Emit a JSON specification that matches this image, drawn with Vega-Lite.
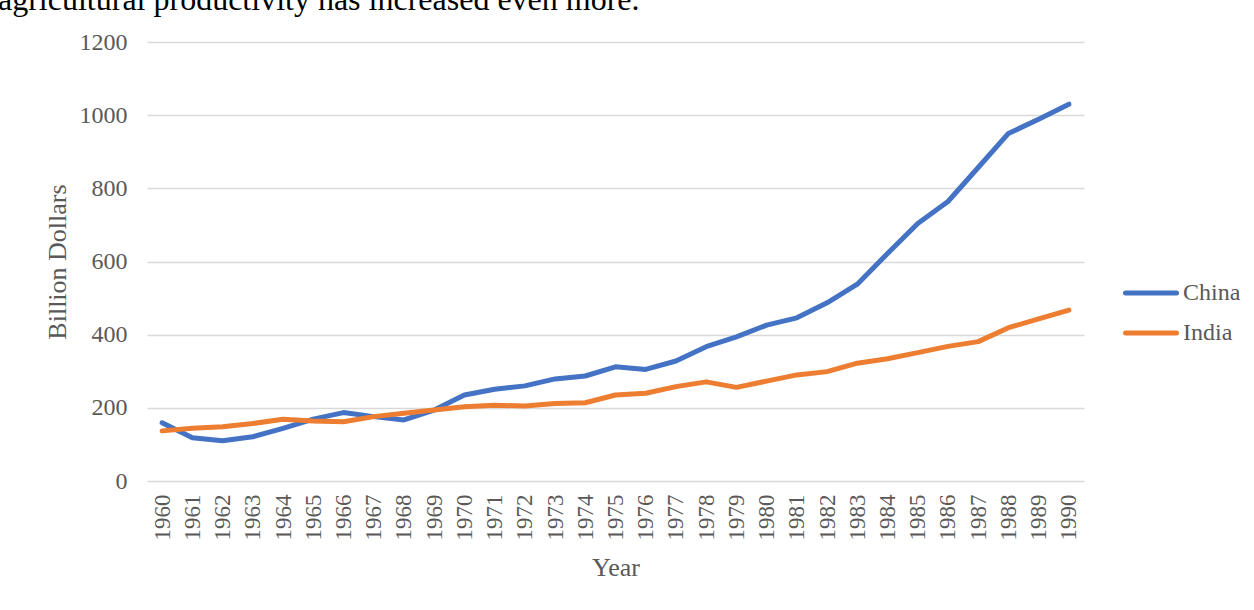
{
  "$schema": "https://vega.github.io/schema/vega-lite/v6.json",
  "autosize": {"type": "none"},
  "padding": {"left": 147, "top": 42, "right": 170, "bottom": 129},
  "width": 937,
  "height": 439,
  "background": "white",
  "title": {
    "text": "agricultural productivity has increased even more.",
    "anchor": "start",
    "frame": "group",
    "orient": "top",
    "baseline": "alphabetic",
    "offset": 0,
    "dx": -149,
    "dy": 12,
    "font": "Liberation Serif",
    "fontSize": 32,
    "fontWeight": "normal",
    "color": "#000000"
  },
  "config": {
    "view": {"stroke": null},
    "font": "Liberation Serif"
  },
  "data": {
    "values": [
      {"year": "1960", "country": "China", "value": 159},
      {"year": "1961", "country": "China", "value": 118},
      {"year": "1962", "country": "China", "value": 110},
      {"year": "1963", "country": "China", "value": 121},
      {"year": "1964", "country": "China", "value": 144},
      {"year": "1965", "country": "China", "value": 169},
      {"year": "1966", "country": "China", "value": 187},
      {"year": "1967", "country": "China", "value": 176},
      {"year": "1968", "country": "China", "value": 167},
      {"year": "1969", "country": "China", "value": 194},
      {"year": "1970", "country": "China", "value": 235},
      {"year": "1971", "country": "China", "value": 251},
      {"year": "1972", "country": "China", "value": 260},
      {"year": "1973", "country": "China", "value": 279},
      {"year": "1974", "country": "China", "value": 287},
      {"year": "1975", "country": "China", "value": 312},
      {"year": "1976", "country": "China", "value": 305},
      {"year": "1977", "country": "China", "value": 328},
      {"year": "1978", "country": "China", "value": 367},
      {"year": "1979", "country": "China", "value": 394},
      {"year": "1980", "country": "China", "value": 426},
      {"year": "1981", "country": "China", "value": 446},
      {"year": "1982", "country": "China", "value": 487},
      {"year": "1983", "country": "China", "value": 538},
      {"year": "1984", "country": "China", "value": 622},
      {"year": "1985", "country": "China", "value": 704},
      {"year": "1986", "country": "China", "value": 764},
      {"year": "1987", "country": "China", "value": 857},
      {"year": "1988", "country": "China", "value": 950},
      {"year": "1989", "country": "China", "value": 989},
      {"year": "1990", "country": "China", "value": 1030},
      {"year": "1960", "country": "India", "value": 137},
      {"year": "1961", "country": "India", "value": 144},
      {"year": "1962", "country": "India", "value": 148},
      {"year": "1963", "country": "India", "value": 157},
      {"year": "1964", "country": "India", "value": 169},
      {"year": "1965", "country": "India", "value": 164},
      {"year": "1966", "country": "India", "value": 162},
      {"year": "1967", "country": "India", "value": 176},
      {"year": "1968", "country": "India", "value": 185},
      {"year": "1969", "country": "India", "value": 194},
      {"year": "1970", "country": "India", "value": 203},
      {"year": "1971", "country": "India", "value": 207},
      {"year": "1972", "country": "India", "value": 205},
      {"year": "1973", "country": "India", "value": 212},
      {"year": "1974", "country": "India", "value": 214},
      {"year": "1975", "country": "India", "value": 235},
      {"year": "1976", "country": "India", "value": 240},
      {"year": "1977", "country": "India", "value": 258},
      {"year": "1978", "country": "India", "value": 271},
      {"year": "1979", "country": "India", "value": 256},
      {"year": "1980", "country": "India", "value": 273},
      {"year": "1981", "country": "India", "value": 290},
      {"year": "1982", "country": "India", "value": 299},
      {"year": "1983", "country": "India", "value": 322},
      {"year": "1984", "country": "India", "value": 334},
      {"year": "1985", "country": "India", "value": 351},
      {"year": "1986", "country": "India", "value": 368},
      {"year": "1987", "country": "India", "value": 381},
      {"year": "1988", "country": "India", "value": 419},
      {"year": "1989", "country": "India", "value": 443},
      {"year": "1990", "country": "India", "value": 467}
    ]
  },
  "mark": {"type": "line", "strokeWidth": 5, "strokeCap": "round", "strokeJoin": "round"},
  "encoding": {
    "x": {
      "field": "year",
      "type": "ordinal",
      "sort": "ascending",
      "scale": {"type": "point", "padding": 0.5},
      "axis": {
        "title": "Year",
        "labelAngle": -90,
        "labelAlign": "right",
        "labelBaseline": "middle",
        "labelPadding": 13,
        "labelFont": "Liberation Serif",
        "labelFontSize": 23,
        "labelColor": "#595959",
        "ticks": false,
        "domain": false,
        "grid": false,
        "titleFont": "Liberation Serif",
        "titleFontSize": 26,
        "titleFontWeight": "normal",
        "titleColor": "#595959",
        "titlePadding": 14
      }
    },
    "y": {
      "field": "value",
      "type": "quantitative",
      "scale": {"domain": [0, 1200], "nice": false},
      "axis": {
        "title": "Billion Dollars",
        "format": "d",
        "values": [0, 200, 400, 600, 800, 1000, 1200],
        "ticks": false,
        "domain": false,
        "grid": true,
        "gridColor": "#d9d9d9",
        "gridWidth": 1.3,
        "labelPadding": 20,
        "labelFont": "Liberation Serif",
        "labelFontSize": 24,
        "labelColor": "#595959",
        "titleFont": "Liberation Serif",
        "titleFontSize": 26,
        "titleFontWeight": "normal",
        "titleColor": "#595959",
        "titlePadding": 9
      }
    },
    "color": {
      "field": "country",
      "type": "nominal",
      "scale": {"domain": ["China", "India"], "range": ["#4472C4", "#ED7D31"]},
      "legend": {
        "title": null,
        "orient": "none",
        "legendX": 976,
        "legendY": 223,
        "padding": 0,
        "symbolType": "stroke",
        "symbolSize": 2601,
        "symbolStrokeWidth": 5,
        "labelOffset": 4,
        "rowPadding": -10,
        "labelFont": "Liberation Serif",
        "labelFontSize": 24,
        "labelColor": "#595959",
        "encode": {"symbols": {"update": {"strokeCap": {"value": "round"}}}}
      }
    }
  }
}
